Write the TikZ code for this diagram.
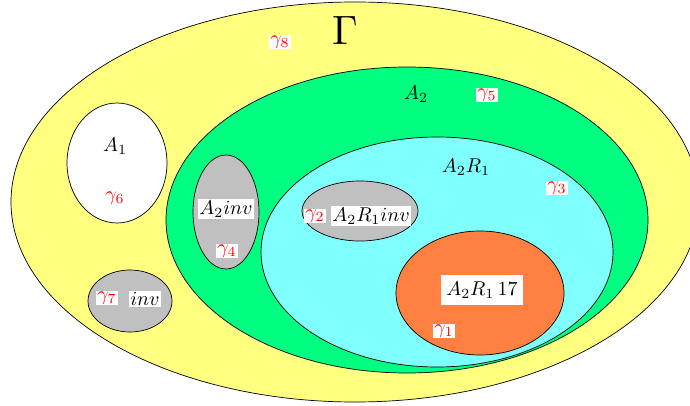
\documentclass[tikz,border=0pt]{standalone}
\usepackage{tikz}
\definecolor{cyel}{RGB}{255,255,128}
\definecolor{cgrn}{RGB}{0,255,128}
\definecolor{ccya}{RGB}{128,255,255}
\definecolor{cora}{RGB}{255,128,64}
\definecolor{cgry}{RGB}{192,192,192}
\definecolor{cred}{RGB}{255,0,0}
\tikzset{
  region/.style={draw=black, line width=0.7pt},
  lbl/.style={scale=2.0, inner sep=0.8pt},
  wlbl/.style={lbl, fill=white},
  glbl/.style={scale=2.0, text=cred, fill=white, inner sep=0.6pt},
}
\begin{document}
\begin{tikzpicture}[x=1pt,y=-1pt]
\useasboundingbox (0,0) rectangle (690,406);
\begin{scope}
\clip (0,0) rectangle (690,406);
\fill[cyel, region] (355,202) ellipse [x radius=344, y radius=200];
\fill[cgrn, region] (407,220) ellipse [x radius=241, y radius=153];
\fill[ccya, region] (437,252) ellipse [x radius=176, y radius=115];
\fill[cora, region] (480,293) ellipse [x radius=84, y radius=62];
\fill[cgry, region] (360,211) ellipse [x radius=58, y radius=30];
\fill[cgry, region] (226,212) ellipse [x radius=33, y radius=57];
\fill[white, region] (117,163) ellipse [x radius=50, y radius=60];
\fill[cgry, region] (130,301) ellipse [x radius=42, y radius=31];
\end{scope}
\node[scale=4.1] (Gam) at (345,30) {$\Gamma$};
\node[glbl] (g8) at (280,42) {$\gamma_8$};
\node[lbl] (A2) at (416,94) {$A_2$};
\node[glbl] (g5) at (487,95) {$\gamma_5$};
\node[lbl] (A2R1) at (466,167) {$A_2R_1$};
\node[glbl] (g3) at (557,188) {$\gamma_3$};
\node[glbl] (g2) at (315,216) {$\gamma_2$};
\node[wlbl] (A2R1inv) at (371,216) {$A_2R_1inv$};
\node[lbl] (A1) at (115,146) {$A_1$};
\node[glbl] (g6) at (115,198) {$\gamma_6$};
\node[wlbl] (A2inv) at (226,209) {$A_2inv$};
\node[glbl] (g4) at (227,251) {$\gamma_4$};
\node[glbl] (g7) at (107,298) {$\gamma_7$};
\node[wlbl] (inv) at (145,299) {$inv$};
\node[wlbl, inner xsep=2.5pt, inner ysep=3.5pt] (A2R117) at (482,290) {$A_2R_1\,17$};
\node[glbl] (g1) at (444,331) {$\gamma_1$};
\end{tikzpicture}
\end{document}
